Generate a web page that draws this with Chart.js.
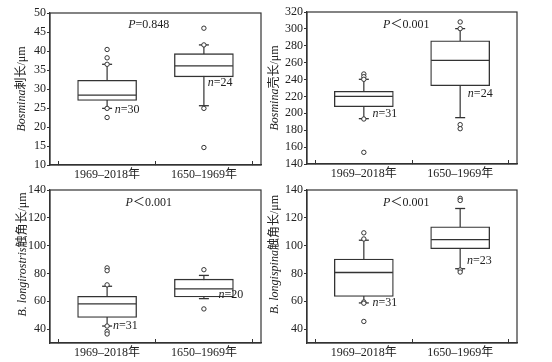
<!DOCTYPE html>
<html>
<head>
<meta charset="utf-8">
<script src="https://cdn.jsdelivr.net/npm/chart.js@4.4.0/dist/chart.umd.min.js"></script>
<style>
  body { margin: 0; background: #fff; }
  #wrap { position: relative; width: 552px; height: 362px; }
  canvas { position: absolute; }
</style>
</head>
<body>
<div id="wrap">
  <canvas id="c1" width="266" height="181" style="left:0;top:0"></canvas>
  <canvas id="c2" width="286" height="181" style="left:266px;top:0"></canvas>
  <canvas id="c3" width="266" height="181" style="left:0;top:181px"></canvas>
  <canvas id="c4" width="286" height="181" style="left:266px;top:181px"></canvas>
</div>
<script>
const categories = ['1969–2018年', '1650–1969年'];
const xs = [1, 2];

// Bosmina 刺长
const spineLow = [24.9, 25.6];
const spineQ1 = [27.0, 33.2];
const spineMed = [28.4, 36.1];
const spineQ3 = [32.3, 39.3];
const spineHigh = [36.5, 41.6];
const spineOut = [[40.4, 38.2, 36.5, 24.9, 22.5], [46.0, 41.6, 24.9, 14.6]];
const spineN = [30, 24];
const spineTicks = [10, 15, 20, 25, 30, 35, 40, 45, 50];

// Bosmina 壳长
const shellLow = [193.7, 194.9];
const shellQ1 = [207.9, 232.8];
const shellMed = [220.1, 262.8];
const shellQ3 = [226.0, 286.0];
const shellHigh = [240.3, 300.3];
const shellOut = [[246.6, 243.4, 240.3, 193.3, 153.8], [308.2, 300.3, 186.6, 181.8]];
const shellN = [31, 24];
const shellTicks = [140, 160, 180, 200, 220, 240, 260, 280, 300, 320];

// B. longirostris 触角长
const lrLow = [42.2, 61.9];
const lrQ1 = [48.4, 63.1];
const lrMed = [58.1, 68.9];
const lrQ3 = [63.6, 75.9];
const lrHigh = [70.8, 78.6];
const lrOut = [[84.0, 82.0, 71.8, 42.2, 38.3, 36.5], [82.7, 54.5]];
const lrN = [31, 20];

// B. longispina 触角长
const lsLow = [58.8, 83.4];
const lsQ1 = [63.4, 97.8];
const lsMed = [80.7, 104.3];
const lsQ3 = [90.4, 113.5];
const lsHigh = [103.9, 126.7];
const lsOut = [[109.2, 104.8, 59.5, 58.6, 45.5], [134.0, 132.5, 82.5, 81.0]];
const lsN = [31, 23];

const antTicks = [40, 60, 80, 100, 120, 140];

const ink = '#333';
const txt = '#222';
const serif = '"Liberation Serif", "Noto Sans CJK SC", serif';
const fs = 12;

function drawParts(ctx, parts, x, y, align) {
    let w = 0;
    parts.forEach(p => {
        ctx.font = (p.it ? 'italic ' : '') + fs + 'px ' + serif;
        w += ctx.measureText(p.t).width;
    });
    let cx = align === 'center' ? x - w / 2 : x;
    parts.forEach(p => {
        ctx.font = (p.it ? 'italic ' : '') + fs + 'px ' + serif;
        ctx.fillText(p.t, cx, y);
        cx += ctx.measureText(p.t).width;
    });
}

function makePanel(id, d) {
    const whiskers = [];
    xs.forEach((x, i) => {
        whiskers.push({x: x, y: d.low[i]}, {x: x, y: d.high[i]});
        if (i < xs.length - 1) whiskers.push({x: x + 0.5, y: null});
    });
    const caps = [];
    xs.forEach((x, i) => { caps.push({x: x, y: d.low[i]}, {x: x, y: d.high[i]}); });
    const outs = [];
    xs.forEach((x, i) => d.out[i].forEach(v => outs.push({x: x, y: v})));

    const panelPlugin = {
        id: 'panel' + id,
        afterDraw(chart) {
            const ctx = chart.ctx;
            const a = chart.chartArea;
            const sx = chart.scales.x, sy = chart.scales.y;
            ctx.save();
            ctx.strokeStyle = ink;
            ctx.lineWidth = 1.2;
            ctx.strokeRect(a.left, a.top, a.right - a.left, a.bottom - a.top);

            ctx.fillStyle = txt;
            ctx.textBaseline = 'middle';
            // y title, rotated
            ctx.save();
            ctx.translate(d.titleX, (a.top + a.bottom) / 2 + (d.titleDy || 0));
            ctx.rotate(-Math.PI / 2);
            drawParts(ctx, d.title, 0, 0, 'center');
            ctx.restore();

            // P value
            drawParts(ctx, d.pText, sx.getPixelForValue(d.pPos[0]), sy.getPixelForValue(d.pPos[1]), 'center');
            // sample sizes
            d.nPos.forEach((p, i) => {
                drawParts(ctx, [{t: 'n', it: true}, {t: '=' + d.n[i]}],
                    sx.getPixelForValue(p[0]), sy.getPixelForValue(p[1]), 'left');
            });
            ctx.restore();
        }
    };

    return new Chart(document.getElementById(id), {
        type: 'bar',
        data: {
            datasets: [
                {
                    type: 'line', data: whiskers, borderColor: ink, borderWidth: 1.2,
                    pointRadius: 0, spanGaps: false, order: 4
                },
                {
                    type: 'bar', data: xs.map((x, i) => ({x: x, y: [d.q1[i], d.q3[i]]})),
                    backgroundColor: '#fff', borderColor: ink, borderWidth: 1.3,
                    borderSkipped: false, barThickness: 59, grouped: false, order: 3
                },
                {
                    type: 'scatter', data: caps, pointStyle: 'line', pointRadius: 5,
                    pointBorderColor: ink, pointBorderWidth: 1.3, order: 2
                },
                {
                    type: 'scatter', data: xs.map((x, i) => ({x: x, y: d.med[i]})),
                    pointStyle: 'line', pointRadius: 29, pointBorderColor: ink,
                    pointBorderWidth: 1.3, order: 2
                },
                {
                    type: 'scatter', data: outs, pointStyle: 'circle', pointRadius: 2.2,
                    pointBackgroundColor: '#fff', pointBorderColor: ink, pointBorderWidth: 1, order: 1
                }
            ]
        },
        options: {
            responsive: false,
            animation: false,
            layout: {autoPadding: false, padding: {left: 0, right: d.padR, top: d.padT, bottom: 0}},
            plugins: {legend: {display: false}, tooltip: {enabled: false}},
            scales: {
                x: {
                    type: 'linear', min: 0.41, max: 2.59, offset: false,
                    afterBuildTicks: a => { a.ticks = xs.map(v => ({value: v})); },
                    afterFit: a => { a.height = d.xH; },
                    ticks: {
                        callback: v => categories[v - 1], autoSkip: false, maxRotation: 0,
                        padding: 7, color: txt, font: {family: serif, size: fs}
                    },
                    grid: {drawOnChartArea: false, tickLength: -4, tickColor: ink, tickWidth: 1},
                    border: {color: ink, width: 1.2}
                },
                y: {
                    type: 'linear', min: d.min, max: d.max,
                    afterBuildTicks: a => { a.ticks = d.ticks.map(v => ({value: v})); },
                    afterFit: a => { a.width = d.yW; },
                    ticks: {autoSkip: false, padding: 1, color: txt, font: {family: serif, size: fs}},
                    grid: {drawOnChartArea: false, tickLength: 3, tickColor: ink, tickWidth: 1},
                    border: {color: ink, width: 1.2}
                }
            }
        },
        plugins: [panelPlugin]
    });
}

makePanel('c1', {
    low: spineLow, q1: spineQ1, med: spineMed, q3: spineQ3, high: spineHigh, out: spineOut, n: spineN,
    ticks: spineTicks, min: 10, max: 50,
    yW: 50, xH: 16, padR: 5, padT: 13, titleX: 22,
    title: [{t: 'Bosmina', it: true}, {t: '刺长/μm'}],
    pText: [{t: 'P', it: true}, {t: '=0.848'}], pPos: [1.43, 46.8],
    nPos: [[1.08, 24.4], [2.04, 31.6]]
});

makePanel('c2', {
    low: shellLow, q1: shellQ1, med: shellMed, q3: shellQ3, high: shellHigh, out: shellOut, n: shellN,
    ticks: shellTicks, min: 140, max: 320,
    yW: 41, xH: 17, padR: 35, padT: 12, titleX: 9,
    title: [{t: 'Bosmina', it: true}, {t: '壳长/μm'}],
    pText: [{t: 'P', it: true}, {t: '＜0.001'}], pPos: [1.44, 305],
    nPos: [[1.09, 199], [2.08, 222.5]]
});

makePanel('c3', {
    low: lrLow, q1: lrQ1, med: lrMed, q3: lrQ3, high: lrHigh, out: lrOut, n: lrN,
    ticks: antTicks, min: 30, max: 140,
    yW: 50, xH: 19, padR: 5, padT: 9, titleX: 22.5, titleDy: -12,
    title: [{t: 'B. longirostris', it: true}, {t: '触角长/μm'}],
    pText: [{t: 'P', it: true}, {t: '＜0.001'}], pPos: [1.43, 130.6],
    nPos: [[1.06, 42.2], [2.15, 64.8]]
});

makePanel('c4', {
    low: lsLow, q1: lsQ1, med: lsMed, q3: lsQ3, high: lsHigh, out: lsOut, n: lsN,
    ticks: antTicks, min: 30, max: 140,
    yW: 41, xH: 19, padR: 35, padT: 9, titleX: 9, titleDy: -12,
    title: [{t: 'B. longispina', it: true}, {t: '触角长/μm'}],
    pText: [{t: 'P', it: true}, {t: '＜0.001'}], pPos: [1.44, 131],
    nPos: [[1.09, 58.6], [2.07, 88.9]]
});
</script>
</body>
</html>
